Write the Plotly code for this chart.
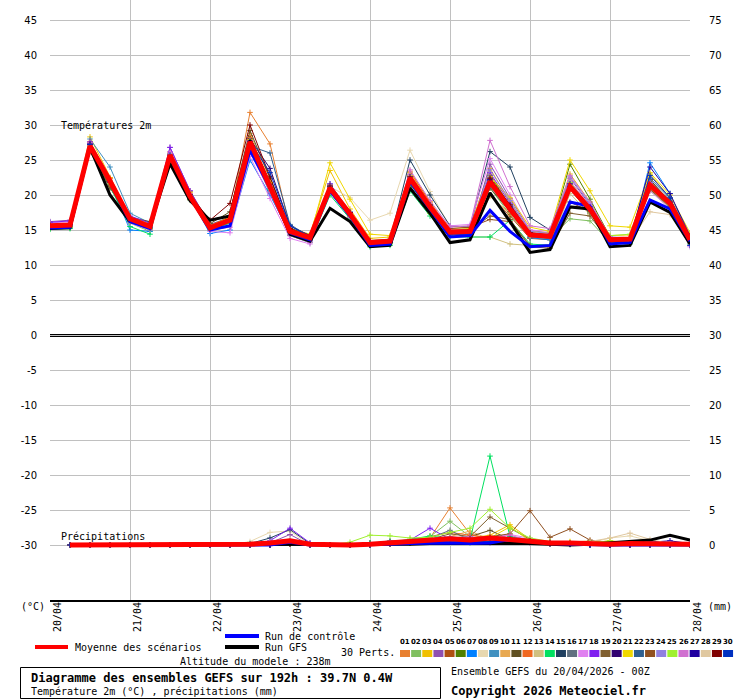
import plotly.graph_objects as go

W, H = 740, 700

HOURS = list(range(0, 193, 6))          # 33 six-hourly steps
DAY_HOURS = [0, 24, 48, 72, 96, 120, 144, 168, 192]
DATES = ["20/04", "21/04", "22/04", "23/04", "24/04", "25/04", "26/04", "27/04", "28/04"]
LEFT_TICKS = [45, 40, 35, 30, 25, 20, 15, 10, 5, 0, -5, -10, -15, -20, -25, -30]
RIGHT_TICKS = [75, 70, 65, 60, 55, 50, 45, 40, 35, 30, 25, 20, 15, 10, 5, 0]

PERT_COLORS = ["#e88030", "#80c060", "#f0c000", "#9050b0", "#b05010", "#508000",
               "#0080ff", "#e8d8b0", "#4090c0", "#e8a850", "#605020", "#f06820",
               "#d0c080", "#00e060", "#204060", "#607080", "#e080f0", "#8020f0",
               "#806030", "#300070", "#f0d800", "#306090", "#905020", "#9080e0",
               "#a0f030", "#d070d0", "#2000a0", "#e0c8a0", "#800000", "#0030c0"]
PERT_LABELS = ["%02d" % (k + 1) for k in range(30)]

# 2 m temperature (degC) of the 30 perturbations
T01 = [15.8,15.9,27.5,22.3,16.8,15.8,26.0,20.3,15.6,16.8,31.8,27.3,15.2,14.0,21.5,17.5,13.4,13.6,23.0,18.8,15.0,15.0,23.0,18.5,14.6,14.3,22.0,18.4,13.8,13.9,22.0,19.2,13.9]
T02 = [15.3,15.4,27.2,21.6,16.0,14.8,25.9,19.5,15.0,16.0,27.0,20.6,14.4,13.5,20.5,16.8,12.8,13.0,21.6,17.8,14.5,14.6,21.0,17.2,14.0,13.8,16.6,16.3,13.2,13.4,20.6,18.2,13.3]
T03 = [15.7,15.8,28.3,22.5,16.9,15.9,26.2,20.5,15.7,16.6,28.0,21.5,15.2,14.4,23.5,18.0,13.8,14.0,23.2,19.0,15.2,15.4,23.8,19.0,14.8,14.6,23.0,19.0,14.2,14.3,23.0,19.6,14.1]
T04 = [16.2,16.4,27.3,21.8,16.4,15.2,26.8,20.6,15.8,16.8,27.0,20.2,14.3,13.4,20.8,17.0,13.0,13.2,22.0,17.6,14.2,14.4,24.4,19.5,15.0,14.5,22.4,18.6,13.9,13.5,22.2,19.0,13.4]
T05 = [15.5,15.6,26.6,21.6,16.7,15.6,25.3,19.9,15.6,16.9,28.5,21.4,15.0,14.1,21.4,17.5,13.5,13.7,22.8,18.0,14.6,14.9,20.0,17.0,13.8,13.6,21.5,17.6,13.6,13.5,21.3,18.6,13.7]
T06 = [15.2,15.3,26.8,21.2,16.2,15.0,25.2,19.3,15.1,16.2,26.8,20.4,14.6,13.7,20.6,17.0,13.0,13.1,21.2,17.4,14.2,14.2,22.8,18.4,14.5,14.2,24.4,19.4,14.0,13.6,21.8,18.8,13.2]
T07 = [15.4,15.5,27.0,21.8,15.0,14.8,25.5,19.6,14.5,15.0,25.0,20.0,14.5,13.6,20.8,17.0,12.9,13.2,22.6,18.4,14.4,14.5,22.2,18.0,13.9,13.6,21.0,17.7,13.2,13.0,24.6,20.2,13.8]
T08 = [15.6,15.8,27.4,22.0,16.6,15.4,25.5,20.0,15.4,16.3,27.2,21.2,14.9,14.0,21.2,19.6,16.4,17.4,26.4,20.5,15.5,15.6,21.8,17.8,14.2,14.0,21.0,17.8,13.6,13.6,21.2,18.4,13.4]
T09 = [15.6,15.7,28.0,24.0,17.4,16.0,25.0,19.6,15.2,16.2,27.5,21.4,14.8,13.9,21.6,17.6,13.4,13.6,22.6,18.6,14.8,14.8,22.3,18.2,14.4,14.0,21.4,18.2,13.7,13.8,21.8,19.3,13.8]
T10 = [15.8,15.9,27.1,21.9,16.5,15.6,25.6,20.2,15.5,16.5,28.8,22.3,15.1,14.2,20.9,17.2,13.3,13.4,22.0,18.2,14.6,14.7,19.8,17.4,14.8,14.6,21.6,18.0,13.8,13.8,21.0,18.5,13.5]
T11 = [15.6,15.6,26.2,21.0,16.8,16.2,24.8,19.4,15.9,17.6,29.2,22.4,15.3,14.2,21.2,17.3,13.3,13.4,22.4,18.4,14.9,15.2,21.0,17.6,14.2,13.8,20.8,17.4,13.4,13.5,22.2,19.0,13.6]
T12 = [15.7,15.8,27.6,22.4,16.4,15.2,25.8,20.1,15.4,16.6,28.2,21.8,14.8,13.8,21.0,17.2,13.1,13.3,23.4,19.0,14.8,14.8,22.5,18.3,14.2,14.0,21.6,18.3,13.6,13.7,21.6,18.9,13.8]
T13 = [15.5,15.6,27.0,21.8,16.3,15.4,25.4,19.8,15.2,16.4,27.2,21.0,14.6,13.7,20.7,17.0,13.0,13.2,21.8,17.9,14.4,14.0,14.0,13.0,12.8,12.9,20.2,17.2,13.2,13.0,20.8,18.2,13.1]
T14 = [15.1,15.2,26.9,21.3,15.5,14.4,25.6,19.7,15.0,16.0,26.6,20.8,14.2,13.2,20.0,16.6,12.6,12.8,20.6,17.0,14.0,14.0,14.0,16.4,13.0,12.8,21.0,17.6,13.2,13.1,21.0,18.4,13.0]
T15 = [15.6,15.7,27.3,21.6,16.2,15.2,25.2,19.6,15.2,16.2,27.0,21.2,14.6,13.6,21.0,17.2,13.4,13.6,25.0,20.0,15.6,15.4,26.2,24.0,16.8,15.0,21.8,18.2,13.8,13.6,21.4,18.8,13.6]
T16 = [15.7,15.6,27.0,21.4,16.4,15.2,25.5,19.8,15.4,16.3,27.4,21.0,14.5,13.6,21.2,17.4,13.3,13.5,22.2,18.3,14.6,14.6,21.2,17.8,14.0,13.8,21.0,17.8,13.5,13.6,21.2,18.6,13.5]
T17 = [16.0,16.2,27.4,21.6,16.0,15.0,26.2,20.0,14.8,14.6,25.5,19.5,13.8,13.0,20.6,17.0,13.2,13.4,22.6,18.6,15.6,15.8,25.2,20.0,15.0,14.8,22.0,18.4,13.4,13.2,20.6,18.0,12.6]
T18 = [16.1,16.3,27.6,21.8,17.0,16.0,26.8,20.6,15.6,16.6,27.8,21.4,14.6,13.6,21.6,17.4,13.1,13.2,22.0,18.1,14.4,14.4,23.2,18.8,14.6,14.2,21.4,18.0,13.4,13.4,21.8,18.9,13.4]
T19 = [15.6,15.7,26.8,21.4,16.6,15.6,25.3,19.8,15.5,16.4,27.4,21.6,14.9,13.9,21.0,17.3,13.2,13.4,22.4,18.4,14.8,15.0,17.0,16.5,12.6,12.4,17.4,17.0,13.2,13.4,21.2,18.6,13.6]
T20 = [15.5,15.6,27.2,21.8,16.6,15.5,25.6,20.0,15.5,16.5,28.0,23.8,15.6,14.2,21.2,17.2,13.3,13.4,22.4,18.2,14.6,14.6,22.0,18.0,14.3,14.0,21.4,18.1,13.6,13.6,21.6,18.8,13.5]
T21 = [15.8,15.9,27.2,22.0,16.8,15.7,25.8,20.3,15.6,16.8,27.9,21.8,15.0,14.0,24.6,19.4,14.4,14.2,22.8,18.6,15.0,15.2,22.6,19.6,15.4,14.8,25.0,20.6,15.6,15.4,23.2,20.0,14.6]
T22 = [15.6,15.7,27.2,21.8,16.4,15.3,25.6,19.9,15.3,16.4,27.0,26.0,15.8,14.0,21.2,17.2,13.1,13.3,22.6,18.5,14.6,14.6,22.4,18.2,14.2,14.0,21.2,17.9,13.5,13.6,22.4,19.5,13.9]
T23 = [15.4,15.5,26.6,21.2,16.4,15.4,25.2,19.6,15.3,16.4,27.2,21.0,14.7,13.8,20.8,17.0,13.0,13.2,21.8,17.8,15.2,15.4,16.5,16.2,12.8,12.6,19.0,17.6,13.4,13.3,20.8,18.3,13.4]
T24 = [15.7,15.9,27.1,21.8,16.6,15.5,25.8,20.0,15.3,16.3,27.2,21.0,14.5,13.6,21.4,17.6,13.4,13.6,22.9,18.7,15.0,15.0,23.6,19.2,14.8,14.5,22.6,18.8,14.0,13.9,21.8,19.0,13.6]
T25 = [15.5,15.6,27.0,21.6,16.3,15.2,25.5,19.8,15.2,16.2,27.3,21.2,14.7,13.8,20.6,16.9,12.9,13.1,21.0,17.4,14.2,14.4,21.6,17.8,14.2,13.9,21.8,18.2,14.2,14.4,21.0,18.6,13.7]
T26 = [15.8,16.0,27.4,22.0,16.6,15.5,26.0,20.2,15.0,15.4,26.2,20.4,14.2,13.2,20.4,16.8,13.0,13.4,23.6,19.2,15.4,15.6,27.8,21.2,15.6,15.2,22.8,19.0,14.0,13.8,21.6,18.8,12.8]
T27 = [15.6,15.7,27.3,21.9,16.5,15.4,25.7,20.0,15.4,16.4,27.6,21.4,14.8,13.8,21.0,17.3,13.2,13.3,22.2,18.2,14.6,14.6,22.2,18.4,14.4,14.1,21.6,18.3,13.7,13.7,24.0,20.2,14.2]
T28 = [15.6,15.7,27.0,21.8,16.4,15.4,25.6,19.9,15.4,16.4,27.4,21.3,14.8,13.8,21.0,17.3,13.2,13.4,22.2,18.3,14.7,14.7,21.6,17.8,14.2,14.0,20.8,17.8,13.6,13.4,17.6,17.2,13.4]
T29 = [15.7,15.8,27.2,21.8,16.6,15.6,25.4,20.0,16.4,18.8,30.0,22.6,15.2,14.0,21.3,17.5,13.4,13.6,22.6,18.6,14.9,15.0,22.4,18.6,14.6,14.3,21.2,18.0,13.8,13.7,21.4,19.0,13.8]
T30 = [15.6,15.7,27.2,21.9,16.4,15.3,25.6,19.8,15.2,16.4,27.6,23.2,15.6,14.0,20.8,17.2,13.1,13.2,21.6,17.7,14.3,14.4,21.8,18.2,14.4,14.0,21.2,17.8,13.4,13.5,22.8,19.6,12.8]
T_PERTS = [T01, T02, T03, T04, T05, T06, T07, T08, T09, T10, T11, T12, T13, T14, T15,
           T16, T17, T18, T19, T20, T21, T22, T23, T24, T25, T26, T27, T28, T29, T30]

T_CONTROL = [15.3,15.4,27.0,21.8,16.2,15.2,25.6,19.8,15.0,15.6,26.4,21.0,14.6,13.6,20.6,17.0,12.8,13.0,22.0,18.0,14.0,14.2,17.8,14.8,12.6,12.8,19.0,18.4,13.0,13.2,19.3,18.0,13.4]
T_GFS = [15.2,15.3,26.8,20.0,16.2,15.6,24.5,19.2,16.4,17.0,27.8,21.4,14.4,13.4,18.1,16.2,12.6,12.8,21.0,17.4,13.2,13.6,20.3,16.2,11.8,12.2,18.3,18.0,12.6,12.8,19.0,17.5,13.0]
T_MEAN = [15.6,15.7,27.0,22.0,16.6,15.5,25.7,19.8,15.3,16.4,27.6,21.4,14.8,13.9,21.0,17.3,13.2,13.4,22.4,18.3,14.7,14.8,21.9,18.0,14.3,14.1,21.2,18.0,13.6,13.7,21.4,18.8,13.6]

# 6-hourly precipitation (mm), steps 6h..192h
P01 = [0]*9 + [0.2,0.3,0.5,0,0,0,0.2,0.4,0.6,1.0,5.3,1.6,0.8,0.6,0.4,0.2,0.3,0.2,0,0,0.1,0,0]
P02 = [0]*9 + [0,0.2,0.6,0,0,0,0.3,0.5,0.7,1.2,3.4,1.2,0.6,0.8,0.5,0.2,0.2,0.1,0,0,0,0,0]
P03 = [0]*9 + [0,0,0.3,0,0,0,0,0.2,0.3,0.5,0.8,1.0,1.4,2.9,0.8,0.4,0.3,0.2,0.5,0.2,0,0,0]
P04 = [0]*9 + [0,0.3,1.5,0,0,0,0,0.3,0.5,0.8,0.6,0.4,0.3,0.5,0.6,0.2,0.1,0,0,0,0,0,0]
P05 = [0]*9 + [0,0,0.2,0,0,0,0,0.2,0.4,0.8,1.0,0.6,1.2,0.8,0.6,0.4,0.3,0.2,0,0,0,0,0]
P06 = [0]*9 + [0,0,0.2,0,0,0,0.3,0.4,0.4,0.5,0.6,0.8,1.0,0.6,0.4,0.3,0.2,0,0,0,0,0,0]
P07 = [0]*9 + [0,0.1,0.4,0,0,0,0.2,0.5,0.6,0.6,0.8,0.5,0.4,1.0,0.6,0.3,0.2,0.1,0,0,0,0,0]
P08 = [0]*9 + [0.5,1.8,2.0,0,0,0,0,0.2,0.3,0.5,0.6,0.4,1.2,0.6,0.3,0.2,0.2,0.3,1.0,1.3,0.6,0.2,0]
P09 = [0]*9 + [0,0.2,0.6,0,0,0,0,0.3,0.5,0.6,0.5,0.3,0.4,1.2,0.8,0.4,0.2,0.1,0,0,0,0,0]
P10 = [0]*9 + [0,0,0.3,0,0,0,0,0.2,0.6,0.8,1.2,2.0,0.8,0.6,0.3,0.2,0.4,0.6,0.3,0.1,0,0,0]
P11 = [0]*9 + [0,0,0.2,0,0,0,0,0.3,0.6,0.8,1.0,1.2,2.1,0.8,0.6,0.3,0.2,0.1,0,0,0,0,0]
P12 = [0]*9 + [0,0.2,0.4,0,0,0,0,0.3,0.5,1.2,1.8,1.4,1.0,0.8,0.4,0.2,0.2,0,0,0,0,0,0]
P13 = [0]*9 + [0,0,0.2,0,0,0,0,0.2,0.4,0.5,0.6,0.8,0.6,0.4,0.3,0.2,0.1,0,0,0,0.2,0,0]
P14 = [0]*9 + [0,0,0.3,0,0,0,0.2,0.4,0.8,1.3,0.9,0.7,12.7,1.2,0.6,0.3,0.2,0.1,0,0,0,0,0]
P15 = [0]*9 + [0.2,1.0,2.2,0.2,0,0,0,0.3,0.6,0.7,0.8,0.6,0.5,0.6,0.8,0.3,0.2,0.1,0,0,0,0,0]
P16 = [0]*9 + [0,0.3,0.5,0,0,0,0.2,0.6,0.7,1.0,2.1,0.7,1.0,0.6,0.4,0.3,0.2,0,0,0,0,0,0]
P17 = [0]*9 + [0,0.2,0.8,0,0,0,0,0.3,0.5,0.8,1.0,0.9,1.0,1.5,1.0,0.4,0.2,0.1,0,0,0,0,0]
P18 = [0]*9 + [0,0.6,2.4,0.3,0,0,0,0.3,0.7,2.4,0.8,0.5,0.4,0.6,0.3,0.2,0.1,0,0,0,0,0,0]
P19 = [0]*9 + [0,0,0.3,0,0,0,0,0.2,0.5,0.8,1.6,1.2,4.0,2.4,0.8,0.4,0.3,0.2,0,0,0,0,0]
P20 = [0]*9 + [0,0,0.2,0,0,0,0,0.2,0.3,0.4,0.5,0.6,0.8,0.6,0.4,0.2,0.2,0.1,0,0,0,0,0]
P21 = [0]*9 + [0,0,0.2,0,0,0,0,0.2,0.3,0.5,0.6,0.8,1.0,2.6,0.6,0.3,0.5,0.3,0.6,0.3,0,0,0]
P22 = [0]*9 + [0,0,0.3,0,0,0,0,0.2,0.5,0.6,0.6,0.8,0.6,1.0,0.5,0.2,0.1,0,0,0,0,0,0]
P23 = [0]*9 + [0,0,0.2,0,0,0,0,0.2,0.4,0.6,0.8,1.0,1.2,1.6,4.9,1.1,2.3,0.7,0.3,0,0,0,0]
P24 = [0]*9 + [0,0.2,0.6,0,0,0,0,0.3,0.6,0.8,1.2,0.9,0.7,0.6,0.4,0.3,0.2,0.2,0,0,0,0,0]
P25 = [0]*9 + [0,0,0.3,0,0,0.4,1.4,1.3,1.0,1.1,1.8,2.4,5.1,2.4,1.0,0.5,0.3,0.3,0.6,0.2,0,0,0]
P26 = [0]*9 + [0,0,0.3,0,0,0,0,0.3,0.5,0.7,1.0,1.2,0.8,1.4,0.6,0.3,0.2,0.1,0,0,0,0,0]
P27 = [0]*9 + [0,0,0.2,0,0,0,0,0.2,0.4,0.6,0.5,0.4,0.6,0.9,0.5,0.3,0.2,0.1,0,0.2,0.4,0.6,0.2]
P28 = [0]*9 + [0,0.4,0.8,0,0,0,0,0.2,0.4,0.6,0.6,0.5,0.6,0.8,0.4,0.3,0.2,0.5,1.0,1.7,0.8,0.2,0]
P29 = [0]*9 + [0,0,0.2,0,0,0,0,0.2,0.4,0.6,0.8,0.9,1.0,0.8,0.6,0.3,0.2,0.1,0,0,0,0,0]
P30 = [0]*9 + [0,0,0.3,0,0,0,0,0.2,0.3,0.5,0.6,0.4,0.5,0.7,0.4,0.2,0.1,0,0,0,0,0,0]
P_PERTS = [P01, P02, P03, P04, P05, P06, P07, P08, P09, P10, P11, P12, P13, P14, P15,
           P16, P17, P18, P19, P20, P21, P22, P23, P24, P25, P26, P27, P28, P29, P30]

P_CONTROL = [0]*9 + [0,0,0.4,0,0,0,0,0.1,0.2,0.3,0.3,0.2,0.3,0.8,0.5,0.2,0.1,0,0,0,0,0,0]
P_GFS = [0]*9 + [0,0,0.1,0,0,0,0,0,0.1,0.2,0.2,0.3,0.2,0.3,0.2,0.1,0,0.1,0.3,0.5,0.7,1.4,0.7]
P_MEAN = [0,0,0,0.1,0.1,0,0,0,0.1] + [0.1,0.3,0.6,0.1,0,0,0.1,0.3,0.4,0.7,0.9,0.7,1.0,0.8,0.6,0.3,0.3,0.2,0.1,0.2,0.2,0.1,0.1]

for name, arr in [("T", T_PERTS), ("P", P_PERTS)]:
    for k, a in enumerate(arr):
        n = 33 if name == "T" else 32
        if len(a) != n:
            raise ValueError("%s%02d has %d values" % (name, k + 1, len(a)))

P_HOURS = HOURS[1:]


def px(x):
    return x / W


def py(y):
    return 1 - y / H


fig = go.Figure()

# perturbations
for color, t in zip(PERT_COLORS, T_PERTS):
    fig.add_trace(go.Scatter(x=HOURS, y=t, mode="lines+markers", yaxis="y",
                             line=dict(color=color, width=1),
                             marker=dict(symbol="cross-thin", size=4, line=dict(color=color, width=1)),
                             hoverinfo="skip", showlegend=False))
for color, p in zip(PERT_COLORS, P_PERTS):
    fig.add_trace(go.Scatter(x=P_HOURS, y=p, mode="lines+markers", yaxis="y2",
                             line=dict(color=color, width=1),
                             marker=dict(symbol="cross-thin", size=4, line=dict(color=color, width=1)),
                             hoverinfo="skip", showlegend=False))

# GFS, control, mean
for t, p, color, w in [(T_GFS, P_GFS, "#000000", 3), (T_CONTROL, P_CONTROL, "#0000ff", 3),
                       (T_MEAN, P_MEAN, "#ff0000", 5)]:
    fig.add_trace(go.Scatter(x=HOURS, y=t, mode="lines", yaxis="y",
                             line=dict(color=color, width=w), hoverinfo="skip", showlegend=False))
    fig.add_trace(go.Scatter(x=P_HOURS, y=p, mode="lines", yaxis="y2",
                             line=dict(color=color, width=w), hoverinfo="skip", showlegend=False))

PXU = 7.0  # pixels per degree on the plot
y_lo = -30 - 55 / PXU
y_hi = 45 + 20 / PXU

shapes = [
    # double zero line (two 1px rows)
    dict(type="line", xref="x", yref="y", x0=0, x1=192, y0=0.5 / PXU, y1=0.5 / PXU,
         line=dict(color="black", width=1), layer="above"),
    dict(type="line", xref="x", yref="y", x0=0, x1=192, y0=-1.5 / PXU, y1=-1.5 / PXU,
         line=dict(color="black", width=1), layer="above"),
    # legend bars
    dict(type="rect", xref="paper", yref="paper", x0=px(35), x1=px(68), y0=py(649), y1=py(645),
         fillcolor="#ff0000", line=dict(width=0)),
    dict(type="rect", xref="paper", yref="paper", x0=px(225), x1=px(259), y0=py(638), y1=py(634),
         fillcolor="#0000ff", line=dict(width=0)),
    dict(type="rect", xref="paper", yref="paper", x0=px(225), x1=px(259), y0=py(649), y1=py(645),
         fillcolor="#000000", line=dict(width=0)),
    # box
    dict(type="rect", xref="paper", yref="paper", x0=px(20.5), x1=px(440.5), y0=py(698.5), y1=py(667.5),
         line=dict(color="black", width=1)),
]

mono = "DejaVu Sans Mono"
annotations = []


def txt(s, x, y, size=10, bold=False, anchor="left"):
    annotations.append(dict(text=("<b>%s</b>" % s) if bold else s, xref="paper", yref="paper",
                            x=px(x), y=py(y), xanchor=anchor, yanchor="middle", showarrow=False,
                            font=dict(family=mono, size=size, color="black")))


txt("Températures 2m", 59, 126)
txt("Précipitations", 59, 536)
txt("(°C)", 19, 606)
txt("(mm)", 706, 606)
txt("Moyenne des scénarios", 73, 647)
txt("Run de contrôle", 263, 636)
txt("Run GFS", 263, 647)
txt("30 Perts.", 339, 652)
txt("Altitude du modele : 238m", 178, 661)
txt("Diagramme des ensembles GEFS sur 192h : 39.7N 0.4W", 29, 678, size=12, bold=True)
txt("Température 2m (°C) , précipitations (mm)", 29, 691)
txt("Ensemble GEFS du 20/04/2026 - 00Z", 449, 671)
txt("Copyright 2026 Meteociel.fr", 449, 691, size=12, bold=True)

for h, d in zip(DAY_HOURS, DATES):
    annotations.append(dict(text=d, xref="x", yref="paper", x=h, xshift=7, y=py(617),
                            xanchor="center", yanchor="middle", textangle=-90, showarrow=False,
                            font=dict(family=mono, size=10, color="black")))

for k, (lab, c) in enumerate(zip(PERT_LABELS, PERT_COLORS)):
    x0 = 400 + 11.14 * k
    shapes.append(dict(type="rect", xref="paper", yref="paper", x0=px(x0), x1=px(x0 + 10),
                       y0=py(657), y1=py(650), fillcolor=c, line=dict(width=0)))
    annotations.append(dict(text="<b>%s</b>" % lab, xref="paper", yref="paper", x=px(x0 + 5), y=py(642),
                            xanchor="center", yanchor="middle", showarrow=False,
                            font=dict(family="DejaVu Sans", size=7, color="black")))

fig.update_layout(
    width=W, height=H, margin=dict(l=0, r=0, t=0, b=0),
    paper_bgcolor="white", plot_bgcolor="white", showlegend=False, hovermode=False,
    xaxis=dict(domain=[px(50), px(690)], range=[0, 192], tickvals=DAY_HOURS, showticklabels=False,
               showgrid=True, gridcolor="#c0c0c0", gridwidth=1, zeroline=False,
               showline=True, linecolor="black", linewidth=2, ticks=""),
    yaxis=dict(domain=[1 - 600 / H, 1], range=[y_lo, y_hi], tickvals=LEFT_TICKS,
               ticktext=[str(v) for v in LEFT_TICKS], showgrid=True, gridcolor="#c0c0c0",
               gridwidth=1, zeroline=False, showline=False, ticks="", ticklabelstandoff=12,
               tickfont=dict(family="DejaVu Sans", size=10, color="black")),
    yaxis2=dict(overlaying="y", side="right", range=[y_lo + 30, y_hi + 30], tickvals=RIGHT_TICKS,
                ticktext=[str(v) for v in RIGHT_TICKS], showgrid=False, zeroline=False,
                showline=False, ticks="", ticklabelstandoff=18,
                tickfont=dict(family="DejaVu Sans", size=10, color="black")),
    shapes=shapes, annotations=annotations,
)

fig.write_html("out.html", config={"displayModeBar": False, "staticPlot": True},
               post_script="document.body.style.margin='0px';document.body.style.padding='0px';")
